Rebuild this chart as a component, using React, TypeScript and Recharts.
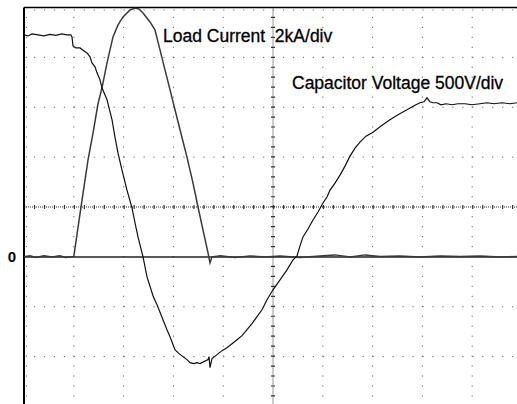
import React from "react";
import { LineChart, Line, XAxis, YAxis, ReferenceLine } from "recharts";

// x in horizontal divisions (0..10), y in vertical divisions (zero line = 0)
const loadCurrent = [
  { t: 0, v: 0 }, { t: 0.12, v: 0.02 }, { t: 0.24, v: -0.01 }, { t: 0.4, v: 0.02 },
  { t: 0.56, v: 0 }, { t: 0.72, v: 0.02 }, { t: 0.84, v: -0.01 }, { t: 1.0, v: 0.01 },
  { t: 1.165, v: 1.14 }, { t: 1.285, v: 1.94 }, { t: 1.386, v: 2.48 }, { t: 1.486, v: 3.07 },
  { t: 1.566, v: 3.39 }, { t: 1.667, v: 3.89 }, { t: 1.787, v: 4.41 }, { t: 1.888, v: 4.65 },
  { t: 1.988, v: 4.81 }, { t: 2.129, v: 4.95 }, { t: 2.229, v: 4.99 }, { t: 2.309, v: 4.97 },
  { t: 2.39, v: 4.89 }, { t: 2.53, v: 4.71 }, { t: 2.631, v: 4.55 }, { t: 2.731, v: 4.15 },
  { t: 2.831, v: 3.75 }, { t: 2.932, v: 3.35 }, { t: 3.032, v: 2.95 }, { t: 3.133, v: 2.55 },
  { t: 3.273, v: 2.0 }, { t: 3.394, v: 1.48 }, { t: 3.494, v: 1.0 }, { t: 3.594, v: 0.54 },
  { t: 3.695, v: 0.08 }, { t: 3.735, v: -0.12 }, { t: 3.775, v: 0 }, { t: 3.94, v: 0.02 },
  { t: 4.24, v: -0.01 }, { t: 4.54, v: 0.02 }, { t: 4.84, v: 0 }, { t: 5.14, v: 0.02 },
  { t: 5.54, v: -0.01 }, { t: 5.94, v: 0.02 }, { t: 6.24, v: 0.04 }, { t: 6.55, v: 0 },
  { t: 6.85, v: 0.04 }, { t: 7.15, v: 0.01 }, { t: 7.55, v: 0.02 }, { t: 7.95, v: 0 },
  { t: 8.35, v: 0.02 }, { t: 8.76, v: 0.01 }, { t: 9.16, v: 0.02 }, { t: 9.56, v: 0 },
  { t: 10, v: 0.01 },
];

const capacitorVoltage = [
  { t: 0, v: 4.45 }, { t: 0.08, v: 4.43 }, { t: 0.16, v: 4.47 }, { t: 0.28, v: 4.45 },
  { t: 0.4, v: 4.43 }, { t: 0.52, v: 4.46 }, { t: 0.64, v: 4.44 }, { t: 0.76, v: 4.47 },
  { t: 0.86, v: 4.45 }, { t: 0.94, v: 4.45 }, { t: 0.964, v: 4.41 }, { t: 0.984, v: 4.23 },
  { t: 1.044, v: 4.19 }, { t: 1.124, v: 4.19 }, { t: 1.205, v: 4.13 }, { t: 1.265, v: 4.09 },
  { t: 1.325, v: 4.01 }, { t: 1.365, v: 3.89 }, { t: 1.426, v: 3.81 }, { t: 1.466, v: 3.69 },
  { t: 1.526, v: 3.55 }, { t: 1.566, v: 3.39 }, { t: 1.667, v: 3.15 }, { t: 1.767, v: 2.75 },
  { t: 1.827, v: 2.4 }, { t: 1.888, v: 2.08 }, { t: 1.968, v: 1.74 }, { t: 2.068, v: 1.34 },
  { t: 2.169, v: 0.98 }, { t: 2.229, v: 0.68 }, { t: 2.289, v: 0.4 }, { t: 2.39, v: 0 },
  { t: 2.47, v: -0.4 }, { t: 2.59, v: -0.78 }, { t: 2.671, v: -0.96 }, { t: 2.791, v: -1.26 },
  { t: 2.871, v: -1.46 }, { t: 2.932, v: -1.6 }, { t: 3.032, v: -1.86 }, { t: 3.112, v: -1.94 },
  { t: 3.193, v: -2.0 }, { t: 3.273, v: -2.06 }, { t: 3.333, v: -2.12 }, { t: 3.414, v: -2.14 },
  { t: 3.474, v: -2.12 }, { t: 3.534, v: -2.14 }, { t: 3.614, v: -2.1 }, { t: 3.695, v: -2.06 },
  { t: 3.715, v: -2.0 }, { t: 3.735, v: -2.22 }, { t: 3.775, v: -2.04 }, { t: 3.876, v: -1.96 },
  { t: 3.976, v: -1.88 }, { t: 4.076, v: -1.82 }, { t: 4.177, v: -1.74 }, { t: 4.277, v: -1.66 },
  { t: 4.378, v: -1.58 }, { t: 4.478, v: -1.46 }, { t: 4.578, v: -1.34 }, { t: 4.679, v: -1.2 },
  { t: 4.779, v: -1.06 }, { t: 4.88, v: -0.86 }, { t: 5.0, v: -0.66 }, { t: 5.141, v: -0.46 },
  { t: 5.281, v: -0.26 }, { t: 5.402, v: -0.06 }, { t: 5.482, v: 0.02 }, { t: 5.542, v: 0.22 },
  { t: 5.602, v: 0.4 }, { t: 5.703, v: 0.56 }, { t: 5.803, v: 0.74 }, { t: 5.904, v: 0.9 },
  { t: 6.004, v: 1.08 }, { t: 6.084, v: 1.2 }, { t: 6.145, v: 1.34 }, { t: 6.245, v: 1.48 },
  { t: 6.345, v: 1.64 }, { t: 6.446, v: 1.82 }, { t: 6.546, v: 2.02 }, { t: 6.647, v: 2.18 },
  { t: 6.747, v: 2.3 }, { t: 6.867, v: 2.42 }, { t: 7.008, v: 2.5 },
  { t: 7.149, v: 2.61 }, { t: 7.349, v: 2.75 }, { t: 7.51, v: 2.85 }, { t: 7.691, v: 2.95 },
  { t: 7.831, v: 3.03 }, { t: 7.952, v: 3.09 }, { t: 8.032, v: 3.11 }, { t: 8.092, v: 3.19 },
  { t: 8.153, v: 3.11 }, { t: 8.213, v: 3.09 }, { t: 8.293, v: 3.09 }, { t: 8.373, v: 3.05 },
  { t: 8.474, v: 3.07 }, { t: 8.594, v: 3.05 }, { t: 8.715, v: 3.07 }, { t: 8.855, v: 3.07 },
  { t: 8.996, v: 3.05 }, { t: 9.157, v: 3.07 }, { t: 9.297, v: 3.09 }, { t: 9.438, v: 3.07 },
  { t: 9.598, v: 3.09 }, { t: 9.759, v: 3.07 }, { t: 9.9, v: 3.09 }, { t: 10, v: 3.07 },
];

const gridX = [1, 2, 3, 4, 6, 7, 8, 9];
const gridY = [4, 3, 2, -1, -2];
const xTicks = [0, 1, 2, 3, 4, 5, 6, 7, 8, 9, 10];
const yTicks = [-3, -2, -1, 0, 1, 2, 3, 4, 5];
const centerX = 5;
const centerY = 1;
const labelCurrent = "Load Current  2kA/div";
const labelVoltage = "Capacitor Voltage 500V/div";

const font = "'Liberation Sans', Arial, sans-serif";
const dot = "1.2 8.76";

const YTick = (props: any) => {
  const { x, y, payload } = props;
  if (payload.value !== 0) return null;
  return (
    <text x={x - 12} y={y} textAnchor="middle" dominantBaseline="central"
      fontFamily={font} fontSize={15} fontWeight="bold" fill="#000">
      0
    </text>
  );
};

export default function App() {
  return (
    <div style={{ position: "absolute", left: 0, top: 0, width: 517, height: 404, overflow: "hidden", background: "#fff" }}>
      <LineChart width={522} height={407} margin={{ top: 7.5, right: 0, bottom: 0.5, left: 0 }}>
        <XAxis type="number" dataKey="t" domain={[0, 10]} ticks={xTicks} hide allowDataOverflow />
        <YAxis type="number" domain={[-3, 5]} ticks={yTicks} width={24} axisLine={false}
          tickLine={false} tickSize={0} tickMargin={0} tick={<YTick />} interval={0} allowDataOverflow />
        {gridX.map((g) => (
          <ReferenceLine key={"gx" + g} x={g} stroke="#666" strokeWidth={1} strokeDasharray={dot} />
        ))}
        {gridY.map((g) => (
          <ReferenceLine key={"gy" + g} y={g} stroke="#666" strokeWidth={1} strokeDasharray={dot} />
        ))}
        <ReferenceLine x={0.05} stroke="#777" strokeWidth={1} strokeDasharray={dot} />
        <ReferenceLine y={4.95} stroke="#777" strokeWidth={1} strokeDasharray={dot} />
        <ReferenceLine x={centerX} stroke="#333" strokeWidth={1} strokeDasharray="1 1" />
        <ReferenceLine x={centerX} stroke="#333" strokeWidth={4} strokeDasharray={dot} />
        <ReferenceLine y={centerY} stroke="#333" strokeWidth={1} strokeDasharray="1 1" />
        <ReferenceLine y={centerY} stroke="#333" strokeWidth={4} strokeDasharray={dot} />
        <ReferenceLine y={0} stroke="#222" strokeWidth={1.5} />
        <ReferenceLine x={0} stroke="#000" strokeWidth={2} />
        <ReferenceLine y={5} stroke="#000" strokeWidth={1.5} />
        <Line data={loadCurrent} dataKey="v" type="linear" stroke="#3a3a3a" strokeWidth={1.5}
          dot={false} isAnimationActive={false} />
        <Line data={capacitorVoltage} dataKey="v" type="linear" stroke="#111" strokeWidth={1.2}
          dot={false} isAnimationActive={false} />
        <text x={163} y={42} fontFamily={font} fontSize={17.5} fill="#000" stroke="#000" strokeWidth={0.3}
          style={{ whiteSpace: "pre" }}>
          {labelCurrent}
        </text>
        <text x={292} y={89} fontFamily={font} fontSize={17.5} fill="#000" stroke="#000" strokeWidth={0.3}>
          {labelVoltage}
        </text>
      </LineChart>
    </div>
  );
}
